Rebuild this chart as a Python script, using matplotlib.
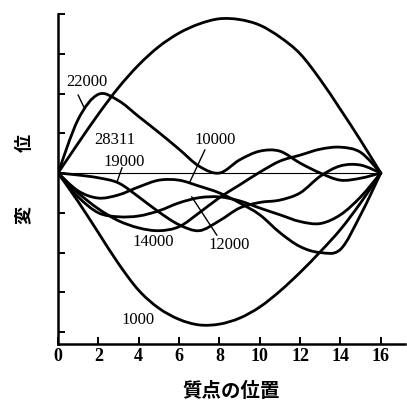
import numpy as np
import matplotlib.pyplot as plt
from matplotlib.path import Path
from matplotlib.patches import PathPatch

# mass positions along the chain
positions = np.arange(17)

# displacement shapes (one value per mass point)
initial = [0, 0.75, 1.48, 2.15, 2.72, 3.18, 3.52, 3.75, 3.88, 3.86, 3.72, 3.42, 3.0, 2.35, 1.6, 0.82, 0]
step_1000 = [0, -0.72, -1.5, -2.28, -2.95, -3.4, -3.68, -3.82, -3.8, -3.65, -3.37, -2.97, -2.5, -1.98, -1.42, -0.75, 0]
step_22000 = [0, 1.35, 1.98, 1.82, 1.42, 1.02, 0.6, 0.17, 0.0, 0.33, 0.55, 0.55, 0.25, 0.0, -0.18, -0.13, 0]
step_14000 = [0, -0.5, -0.9, -1.2, -1.38, -1.45, -1.35, -1.0, -0.62, -0.3, 0.02, 0.3, 0.45, 0.6, 0.65, 0.52, 0]
step_19000 = [0, -0.05, -0.12, -0.25, -0.6, -0.98, -1.3, -1.45, -1.2, -0.88, -0.74, -0.68, -0.5, -0.08, 0.18, 0.2, 0]
step_12000 = [0, -0.6, -1.0, -1.1, -1.08, -0.95, -0.75, -0.62, -0.6, -0.7, -0.88, -1.05, -1.22, -1.27, -1.05, -0.6, 0]
step_10000 = [0, -0.45, -0.63, -0.55, -0.35, -0.18, -0.18, -0.33, -0.5, -0.75, -1.05, -1.5, -1.85, -2.0, -1.92, -1.05, 0]
step_28311 = [0] * 17

curves = [initial, step_1000, step_22000, step_14000, step_19000, step_12000, step_10000]

x_ticks = [0, 2, 4, 6, 8, 10, 12, 14, 16]
y_ticks = [-4, -3, -2, -1, 0, 1, 2, 3, 4]


def smooth_path(xs, ys):
    # Catmull-Rom through the points, drawn as cubic Bezier segments
    pts = np.column_stack([xs, ys]).astype(float)
    verts = [pts[0]]
    codes = [Path.MOVETO]
    n = len(pts)
    for i in range(n - 1):
        p0 = pts[i - 1] if i > 0 else pts[i]
        p1 = pts[i]
        p2 = pts[i + 1]
        p3 = pts[i + 2] if i + 2 < n else pts[i + 1]
        verts += [p1 + (p2 - p0) / 6, p2 - (p3 - p1) / 6, p2]
        codes += [Path.CURVE4] * 3
    return Path(verts, codes)


fig = plt.figure(figsize=(4.07, 4.0), dpi=100)
ax = fig.add_axes([0.1425, 0.14, 0.8526, 0.825])

for ys in curves:
    ax.add_patch(PathPatch(smooth_path(positions, ys), fill=False,
                           edgecolor='black', lw=2.0, capstyle='round'))
ax.plot(positions, step_28311, color='black', lw=0.8)

ax.set_xlim(0, 17.2)
ax.set_ylim(-4.3, 4.0)

ax.spines['top'].set_visible(False)
ax.spines['right'].set_visible(False)
ax.spines['left'].set_linewidth(1.8)
ax.spines['bottom'].set_linewidth(1.8)

ax.set_xticks(x_ticks)
ax.set_xticklabels([str(v) for v in x_ticks], family='Liberation Serif',
                   fontweight='bold', fontsize=13)
ax.set_yticks(y_ticks)
ax.set_yticklabels([])
ax.tick_params(direction='in', length=5, width=1.4, pad=3)

jp = ['Noto Sans CJK JP', 'DejaVu Sans']
ax.set_xlabel('質点の位置', family=jp, fontweight='bold', fontsize=14, labelpad=12)
ax.set_ylabel('変　　　位', family=jp, fontweight='bold', fontsize=13, labelpad=14)

lab = dict(family='Liberation Serif', fontsize=12, ha='center', va='center')
ax.text(1.45, 2.3, '22000', **lab)
ax.text(2.8, 0.83, '28311', **lab)
ax.text(3.3, 0.28, '19000', **lab)
ax.text(7.8, 0.83, '10000', **lab)
ax.text(4.7, -1.74, '14000', **lab)
ax.text(8.5, -1.82, '12000', **lab)
ax.text(3.96, -3.7, '1000', **lab)

# leader lines from labels to curves
ax.plot([1.0, 1.28], [1.96, 1.66], color='black', lw=1.0)
ax.plot([3.17, 2.92], [0.13, -0.23], color='black', lw=1.0)
ax.plot([7.28, 6.53], [0.58, -0.23], color='black', lw=1.0)
ax.plot([7.87, 6.63], [-1.56, -0.6], color='black', lw=1.0)

fig.savefig('out.png', dpi=100)
